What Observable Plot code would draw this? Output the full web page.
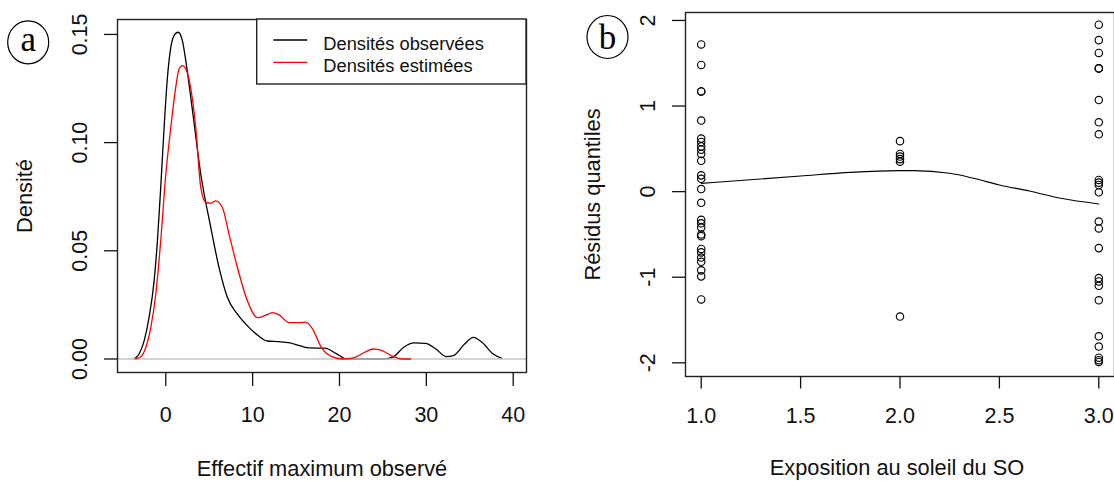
<!DOCTYPE html>
<html><head><meta charset="utf-8">
<script src="https://cdn.jsdelivr.net/npm/d3@7"></script>
<script src="https://cdn.jsdelivr.net/npm/@observablehq/plot@0.6"></script>
<style>
body{margin:0;background:#fff;}
#wrap{position:relative;width:1114px;height:481px;overflow:hidden;background:#fff;font-family:"Liberation Sans",Arial,sans-serif;}
#left,#right,#overlay{position:absolute;top:0;}
#left{left:0px}
#right{left:560px}
#overlay{left:0;pointer-events:none}
</style></head>
<body>
<div id="wrap"><div id="left"></div><div id="right"></div>
<svg id="overlay" width="1114" height="481"></svg></div>
<script>
// ---- Panel a: densities ----
const obsX = [-3.65,-3.07,-2.49,-1.92,-1.34,-0.96,-0.58,-0.19,0.19,0.58,1.04,1.42,1.92,2.3,3.07,4.03,5.18,6.13,7.1,8.25,9.6,10.7,11.7,13.0,14.3,15.5,16.5,18.3,19.6,20.8,23.0,25.1,26.2,27.4,28.6,29.9,31.1,32.3,33.1,34.4,35.4,36.4,37.7,38.7];
const obsY = [0,0.0023,0.0084,0.0192,0.0361,0.0546,0.0793,0.107,0.130,0.144,0.150,0.151,0.147,0.138,0.115,0.0855,0.0608,0.0423,0.0284,0.0207,0.0145,0.0106,0.0083,0.0080,0.0074,0.006,0.0051,0.0050,0.0026,0,0,0,0.001,0.0054,0.0074,0.0072,0.0046,0.0011,0.0015,0.0069,0.010,0.0077,0.0023,0.0003];
const estX = [-3.45,-2.88,-2.3,-1.73,-1.15,-0.58,0,0.58,1.15,1.53,1.92,2.5,3.45,4.03,4.6,5.2,5.75,6.52,7.28,8.25,9.4,10.55,11.4,12.27,13.0,14.2,15.5,16.1,16.9,17.9,19.2,20.4,21.6,22.9,23.9,24.9,26.2,27.2,28.2];
const estY = [0,0.001,0.0053,0.0145,0.0299,0.0546,0.085,0.107,0.1256,0.134,0.1356,0.132,0.107,0.0793,0.0724,0.072,0.0731,0.070,0.0577,0.0423,0.0269,0.0191,0.020,0.0214,0.0205,0.0168,0.0168,0.017,0.0139,0.0054,0.001,0,0.0005,0.0031,0.0046,0.0039,0.0011,0,0];
const xTicksA = [0,10,20,30,40];
const yTicksA = [0,0.05,0.10,0.15];
const legendLabels = ["Densités observées","Densités estimées"];
const legendColors = ["#000000","#ff0000"];

// ---- Panel b: residuals ----
const expoLevels = [1,2,3];
const resid1 = [1.72,1.48,1.17,1.17,0.83,0.62,0.58,0.53,0.49,0.44,0.36,0.19,0.15,0.03,-0.13,-0.33,-0.37,-0.42,-0.50,-0.52,-0.67,-0.71,-0.77,-0.82,-0.92,-0.99,-1.26];
const resid2 = [0.59,0.44,0.41,0.38,0.35,-1.46];
const resid3 = [1.95,1.77,1.62,1.44,1.44,1.07,0.81,0.67,0.136,0.105,0.078,-0.008,-0.35,-0.43,-0.66,-1.01,-1.05,-1.10,-1.27,-1.69,-1.81,-1.94,-1.97,-1.99];
const smoothX = [1,1.5,1.75,2.0,2.07,2.25,2.37,2.5,2.65,2.81,3.0];
const smoothY = [0.097,0.183,0.225,0.245,0.245,0.214,0.156,0.078,0.008,-0.078,-0.144];
const xTicksB = [1,1.5,2,2.5,3];
const yTicksB = [-2,-1,0,1,2];

const FONT = "Liberation Sans, Arial, Helvetica, sans-serif";
const TICK_FS = 21.5, TITLE_FS = 21.8;
const obs = obsX.map((x,i)=>({x, y: obsY[i]}));
const est = estX.map((x,i)=>({x, y: estY[i]}));
const pts = [resid1, resid2, resid3].flatMap((arr,k)=>arr.map(v=>({x: expoLevels[k], y: v})));
const smooth = smoothX.map((x,i)=>({x, y: smoothY[i]}));

const plotA = Plot.plot({
  width: 560, height: 481,
  marginLeft: 117, marginRight: 34, marginTop: 19, marginBottom: 109,
  x: {domain: [-5.556, 41.53]},
  y: {domain: [-0.00625, 0.1569]},
  style: {fontFamily: FONT, fontSize: TICK_FS + "px", color: "#111", background: "white", overflow: "visible"},
  marks: [
    Plot.line(obs, {x: "x", y: "y", stroke: "#000", strokeWidth: 1.3, curve: "monotone-x"}),
    Plot.ruleY([0], {stroke: "#c4c4c4", strokeWidth: 1.6}),
    Plot.line(est, {x: "x", y: "y", stroke: "#ff0000", strokeWidth: 1.3, curve: "monotone-x"}),
    Plot.frame({stroke: "#222", strokeWidth: 1.4}),
    Plot.axisX(xTicksA, {tickSize: 14, tickPadding: 20, label: null, fontSize: TICK_FS, strokeWidth: 1.3}),
    Plot.axisY(yTicksA, {tickSize: 13, tickPadding: 18, tickRotate: -90, label: null, fontSize: TICK_FS, strokeWidth: 1.3, tickFormat: d => d.toFixed(2)}),
    Plot.text(["Effectif maximum observé"], {frameAnchor: "bottom", dy: 97, lineAnchor: "middle", textAnchor: "middle", fontSize: TITLE_FS, fill: "#111"}),
    Plot.text(["Densité"], {frameAnchor: "left", dx: -86, rotate: -90, lineAnchor: "bottom", textAnchor: "middle", fontSize: TITLE_FS, fill: "#111"})
  ]
});
document.getElementById("left").appendChild(plotA);

const plotB = Plot.plot({
  width: 554, height: 481,
  marginLeft: 125, marginRight: 0, marginTop: 12, marginBottom: 105,
  x: {domain: [0.921, 3.079]},
  y: {domain: [-2.16, 2.093]},
  style: {fontFamily: FONT, fontSize: TICK_FS + "px", color: "#111", background: "white"},
  marks: [
    Plot.dot(pts, {x: "x", y: "y", r: 3.7, stroke: "#000", strokeWidth: 1.15, fill: "none"}),
    Plot.line(smooth, {x: "x", y: "y", stroke: "#000", strokeWidth: 1.1, curve: "monotone-x"}),
    Plot.frame({stroke: "#222", strokeWidth: 1.4}),
    Plot.axisX(xTicksB, {tickSize: 12.5, tickPadding: 18.5, label: null, fontSize: TICK_FS, strokeWidth: 1.3, tickFormat: d => d.toFixed(1)}),
    Plot.axisY(yTicksB, {tickSize: 13, tickPadding: 17.5, tickRotate: -90, label: null, fontSize: TICK_FS, strokeWidth: 1.3, tickFormat: d => String(d)}),
    Plot.text(["Exposition au soleil du SO"], {frameAnchor: "bottom", dx: -3, dy: 92, lineAnchor: "middle", textAnchor: "middle", fontSize: TITLE_FS, fill: "#111"}),
    Plot.text(["Résidus quantiles"], {frameAnchor: "left", dx: -86, rotate: -90, lineAnchor: "bottom", textAnchor: "middle", fontSize: TITLE_FS, fill: "#111"})
  ]
});
document.getElementById("right").appendChild(plotB);

// ---- overlay: legend and panel letters ----
const ov = d3.select("#overlay");
ov.append("rect").attr("x", 256.7).attr("y", 19).attr("width", 526 - 256.7).attr("height", 84 - 19)
  .attr("fill", "white").attr("stroke", "#222").attr("stroke-width", 1.4);
legendLabels.forEach((lab, i) => {
  const yy = 40 + i * 22.3;
  ov.append("line").attr("x1", 273.3).attr("x2", 307.3).attr("y1", yy).attr("y2", yy)
    .attr("stroke", legendColors[i]).attr("stroke-width", 1.3);
  ov.append("text").attr("x", 323.3).attr("y", yy + 9.5).attr("font-family", FONT)
    .attr("font-size", 18.3).attr("fill", "#111").text(lab);
});
[["a", 28.2, 42.3], ["b", 607.5, 37]].forEach(([t, cx, cy]) => {
  ov.append("ellipse").attr("cx", cx).attr("cy", cy).attr("rx", 20.5).attr("ry", 21.5)
    .attr("fill", "white").attr("stroke", "#000").attr("stroke-width", 1.2);
  ov.append("text").attr("x", cx).attr("y", t === "a" ? cy + 9 : cy + 12).attr("text-anchor", "middle")
    .attr("font-family", "Liberation Serif, Times New Roman, serif").attr("font-size", 35).attr("fill", "#000").text(t);
});
</script>
</body></html>
